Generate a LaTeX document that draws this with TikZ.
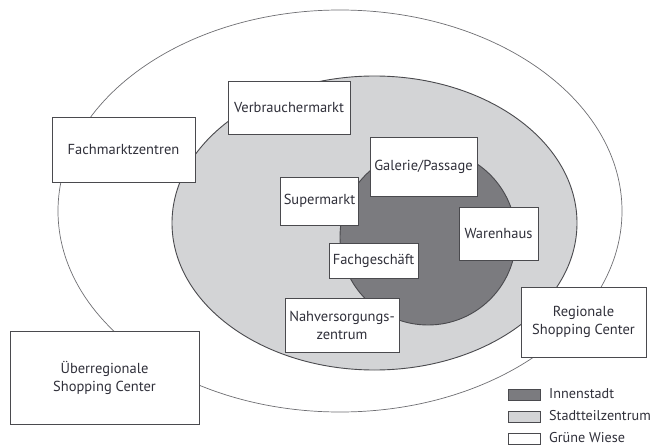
\documentclass[tikz,border=0pt]{standalone}
\usepackage{fontspec}
\setmainfont{PT Sans}
\definecolor{darkzone}{HTML}{7B7B7F}
\definecolor{midzone}{HTML}{D3D4D6}
\definecolor{boxline}{HTML}{4A4A4E}
\definecolor{txt}{HTML}{30303A}
\definecolor{outerline}{HTML}{6E6E72}
\begin{document}
\begin{tikzpicture}[x=1pt,y=-1pt,
  box/.style={draw=boxline, fill=white, line width=0.9pt, inner sep=0pt,
    font=\fontsize{14.5}{18}\selectfont, text=txt, align=center},
  legbox/.style={draw=boxline, line width=0.8pt, minimum width=32, minimum height=11, inner sep=0pt},
  legtext/.style={anchor=west, inner sep=0pt, font=\fontsize{14.2}{16}\selectfont, text=txt}]
\useasboundingbox (0,0) rectangle (651,447);
% zones
\draw[outerline, line width=0.7pt, fill=white] (340,211) ellipse [x radius=282, y radius=201];
\draw[boxline, line width=0.9pt, fill=midzone] (374.5,223) ellipse [x radius=202.5, y radius=147];
\draw[boxline, line width=0.9pt, fill=darkzone] (428,237) circle [radius=88];
% boxes
\node[box, minimum width=122, minimum height=53] (verb) at (289,107.5) {Verbrauchermarkt};
\node[box, minimum width=143, minimum height=65] (fmz) at (123.5,149.5) {Fachmarktzentren};
\node[box, minimum width=107, minimum height=59] (gal) at (423.5,166.5) {Galerie/Passage};
\node[box, minimum width=78, minimum height=48] (sup) at (319.5,201) {Supermarkt};
\node[box, minimum width=79, minimum height=53] (wh) at (498.5,233.5) {Warenhaus};
\node[box, minimum width=89, minimum height=35] (fg) at (373.5,260.5) {Fachgeschäft};
\node[box, minimum width=114, minimum height=54] (nvz) at (342,325) {Nahversorgungs-\\zentrum};
\node[box, minimum width=125, minimum height=70] (rsc) at (583.5,322) {Regionale\\Shopping Center};
\node[box, minimum width=189, minimum height=93] (usc) at (104.5,377.5) {Überregionale\\Shopping Center};
% legend
\node[legbox, fill=darkzone] (l1) at (524,394.5) {};
\node[legbox, fill=midzone] (l2) at (524,416.5) {};
\node[legbox, fill=white] (l3) at (524,438.5) {};
\node[legtext] (t1) at (549,394) {Innenstadt};
\node[legtext] (t2) at (549,416) {Stadtteilzentrum};
\node[legtext] (t3) at (549,437.5) {Grüne Wiese};
\end{tikzpicture}
\end{document}
